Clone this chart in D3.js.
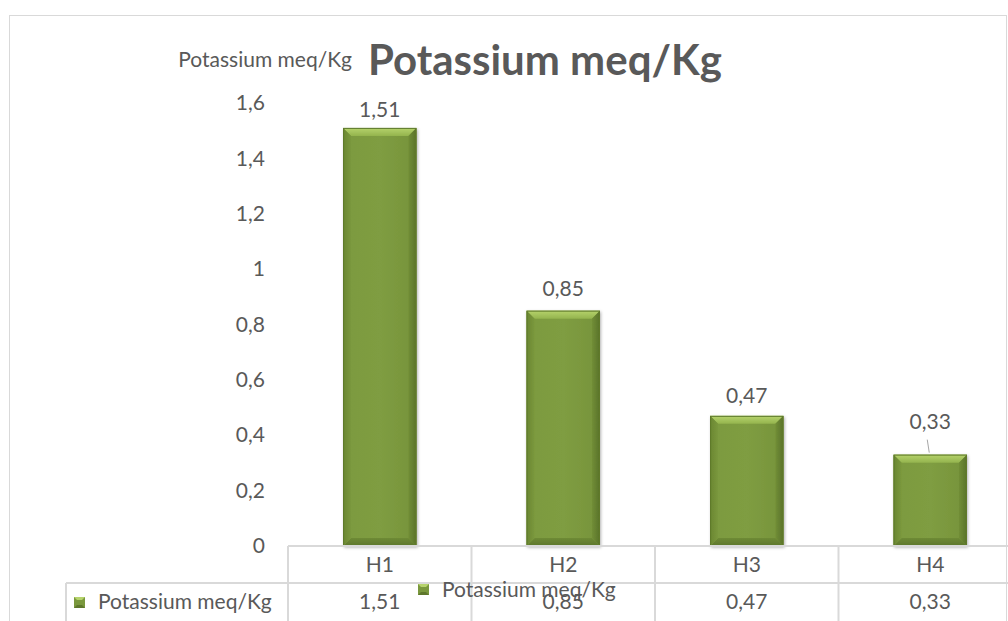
<!DOCTYPE html>
<html>
<head>
<meta charset="utf-8">
<script src="https://cdn.jsdelivr.net/npm/d3@7"></script>
<style>
  html, body { margin: 0; padding: 0; background: #fff; }
  svg { display: block; }
  text { font-family: Lato, "Open Sans", sans-serif; fill: #595959; }
</style>
</head>
<body>
<svg id="chart" width="1008" height="621"></svg>
<script>
// Chart data
const categories = ["H1", "H2", "H3", "H4"];
const seriesName = "Potassium meq/Kg";
const values = [1.51, 0.85, 0.47, 0.33];
const yTicks = [0, 0.2, 0.4, 0.6, 0.8, 1, 1.2, 1.4, 1.6];

const locale = d3.formatLocale({ decimal: ",", thousands: ".", grouping: [3], currency: ["", ""] });
const fmt = v => locale.format("~g")(v);

const svg = d3.select("#chart");
const W = 1008, H = 621;

const plot = { left: 288, right: 1022, top: 103, bottom: 546 };
const rowH = 37;
const legendLeft = 66;
const gridColor = "#D9D9D9";

const x = d3.scaleBand().domain(categories)
  .range([plot.left, plot.right]).paddingInner(0.6).paddingOuter(0.3);
const y = d3.scaleLinear().domain([0, 1.6]).range([plot.bottom, plot.top]);
const step = x.step();

// Gradients for the bevelled bars
const defs = svg.append("defs");
function lin(id, x1, y1, x2, y2, stops) {
  const g = defs.append("linearGradient").attr("id", id)
    .attr("x1", x1).attr("y1", y1).attr("x2", x2).attr("y2", y2);
  stops.forEach(s => g.append("stop").attr("offset", s[0]).attr("stop-color", s[1]));
}
lin("face", 0, 0, 1, 0, [[0, "#7C9A3E"], [0.5, "#7F9D42"], [1, "#76933A"]]);
lin("bevTop", 0, 0, 0, 1, [[0, "#B6D36C"], [1, "#94B44E"]]);
lin("bevBot", 0, 0, 0, 1, [[0, "#6E8A35"], [1, "#5E772C"]]);
lin("bevL", 0, 0, 1, 0, [[0, "#6A8632"], [1, "#7A983D"]]);
lin("bevR", 0, 0, 1, 0, [[0, "#718E37"], [1, "#5A7229"]]);
const shadow = defs.append("filter").attr("id", "shadow")
  .attr("x", "-20%").attr("y", "-20%").attr("width", "140%").attr("height", "140%");
shadow.append("feDropShadow").attr("dx", 1).attr("dy", 1.5).attr("stdDeviation", 1.5)
  .attr("flood-color", "#000").attr("flood-opacity", 0.3);

// Outer chart frame
svg.append("rect").attr("x", 9.5).attr("y", 15.5).attr("width", 1006.5 - 9.5).attr("height", H + 20)
  .attr("fill", "none").attr("stroke", gridColor).attr("stroke-width", 1);

// Titles
svg.append("text").attr("x", 352).attr("y", 67).attr("text-anchor", "end")
  .attr("font-size", 21).text(seriesName);
const title = svg.append("text").attr("x", 368).attr("y", 75).attr("font-size", 34)
  .attr("font-weight", "bold").text(seriesName);
// size the main title to span its 354px slot
const tLen = title.node().getComputedTextLength();
title.attr("font-size", 34 * 354 / tLen);

// Value axis
const yAxis = d3.axisLeft(y).tickValues(yTicks).tickFormat(fmt).tickSize(0).tickPadding(0);
const ga = svg.append("g").attr("transform", `translate(265,0)`).call(yAxis);
ga.select(".domain").remove();
ga.selectAll("text").attr("font-size", 21).attr("fill", "#595959")
  .style("font-family", "Lato, 'Open Sans', sans-serif");

// Bars with bevel
const bev = 8;
const bars = svg.append("g").selectAll("g").data(values).join("g")
  .attr("filter", "url(#shadow)");
bars.each(function (v, i) {
  const g = d3.select(this);
  const x0 = x(categories[i]), x1 = x0 + x.bandwidth();
  const y0 = y(v), y1 = y(0);
  g.append("rect").attr("x", x0).attr("y", y0).attr("width", x1 - x0).attr("height", y1 - y0)
    .attr("fill", "url(#face)");
  const poly = (pts, fill) => g.append("polygon")
    .attr("points", pts.map(p => p.join(",")).join(" ")).attr("fill", fill);
  poly([[x0, y0], [x1, y0], [x1 - bev, y0 + bev], [x0 + bev, y0 + bev]], "url(#bevTop)");
  poly([[x0, y1], [x1, y1], [x1 - bev, y1 - bev], [x0 + bev, y1 - bev]], "url(#bevBot)");
  poly([[x0, y0], [x0 + bev, y0 + bev], [x0 + bev, y1 - bev], [x0, y1]], "url(#bevL)");
  poly([[x1, y0], [x1 - bev, y0 + bev], [x1 - bev, y1 - bev], [x1, y1]], "url(#bevR)");
  g.append("rect").attr("x", x0 + 0.5).attr("y", y0 + 0.5).attr("width", x1 - x0 - 1)
    .attr("height", y1 - y0 - 1).attr("fill", "none").attr("stroke", "#5F7A2C").attr("stroke-width", 1);
});

// Data labels (the last one sits higher with a leader line)
const labelLift = [18, 22, 20, 33];
values.forEach((v, i) => {
  const cx = x(categories[i]) + x.bandwidth() / 2;
  const cy = y(v) - labelLift[i];
  svg.append("text").attr("x", cx).attr("y", cy + 7).attr("text-anchor", "middle")
    .attr("font-size", 21).text(fmt(v));
  if (labelLift[i] > 30) {
    svg.append("line").attr("x1", cx - 3).attr("y1", cy + 18).attr("x2", cx - 1).attr("y2", y(v) - 2)
      .attr("stroke", "#A6A6A6").attr("stroke-width", 1);
  }
});

// Data table below the plot
const tbl = svg.append("g").attr("stroke", gridColor).attr("stroke-width", 2).attr("fill", "none");
tbl.append("line").attr("x1", plot.left).attr("x2", plot.right + 10).attr("y1", plot.bottom).attr("y2", plot.bottom);
tbl.append("line").attr("x1", legendLeft).attr("x2", plot.right + 10)
  .attr("y1", plot.bottom + rowH).attr("y2", plot.bottom + rowH);
tbl.append("line").attr("x1", legendLeft).attr("x2", legendLeft)
  .attr("y1", plot.bottom + rowH).attr("y2", H + 5);
d3.range(categories.length + 1).forEach(i => {
  const xx = plot.left + i * step;
  tbl.append("line").attr("x1", xx).attr("x2", xx).attr("y1", plot.bottom).attr("y2", H + 5);
});

categories.forEach((c, i) => {
  const cx = x(c) + x.bandwidth() / 2;
  svg.append("text").attr("x", cx).attr("y", plot.bottom + 26).attr("text-anchor", "middle")
    .attr("font-size", 21).text(c);
  svg.append("text").attr("x", cx).attr("y", plot.bottom + rowH + 26).attr("text-anchor", "middle")
    .attr("font-size", 21).text(fmt(values[i]));
});

// Legend key markers
function marker(mx, my) {
  const s = 11;
  svg.append("rect").attr("x", mx).attr("y", my).attr("width", s).attr("height", s).attr("fill", "#7A983D");
  svg.append("polygon").attr("points", `${mx},${my} ${mx + s},${my} ${mx + s - 3},${my + 3} ${mx + 3},${my + 3}`)
    .attr("fill", "#B6D36C");
  svg.append("polygon").attr("points", `${mx},${my + s} ${mx + s},${my + s} ${mx + s - 3},${my + s - 3} ${mx + 3},${my + s - 3}`)
    .attr("fill", "#5E772C");
}
marker(74, 597);
svg.append("text").attr("x", 98).attr("y", plot.bottom + rowH + 26).attr("font-size", 21).text(seriesName);

// Floating legend
marker(418, 584);
svg.append("text").attr("x", 442).attr("y", 597).attr("font-size", 21).text(seriesName);
</script>
</body>
</html>
